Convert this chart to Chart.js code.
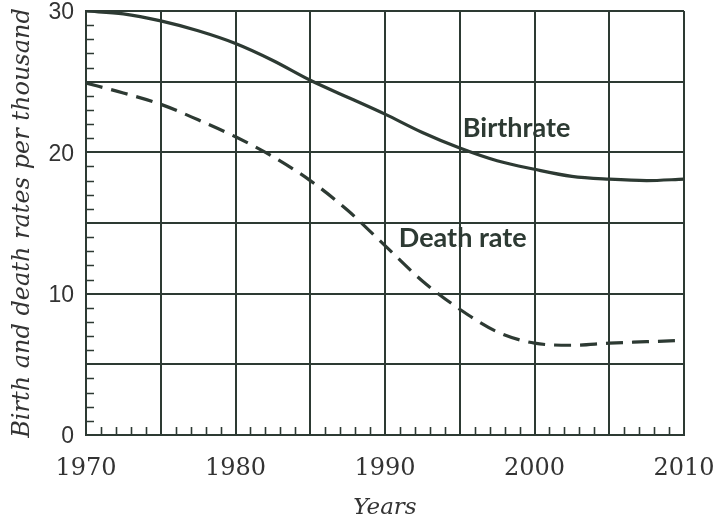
<!DOCTYPE html>
<html><head><meta charset="utf-8">
<script src="https://cdn.jsdelivr.net/npm/chart.js@4/dist/chart.umd.min.js"></script>
<style>html,body{margin:0;padding:0;background:#fff}#wrap{width:726px;height:522px}</style>
</head><body><div id="wrap"><canvas id="c" width="726" height="522"></canvas></div>
<script>
const years      = [1970, 1972.5, 1975, 1977.5, 1980, 1982.5, 1985, 1987.5, 1990, 1992.5, 1995, 1997.5, 2000, 2002.5, 2005, 2007.5, 2010];
const birthrate  = [30.0, 29.8, 29.3, 28.6, 27.7, 26.5, 25.1, 23.9, 22.7, 21.4, 20.3, 19.4, 18.8, 18.3, 18.1, 18.0, 18.1];
const deathRate  = [24.9, 24.2, 23.4, 22.3, 21.1, 19.7, 18.0, 15.9, 13.4, 10.9, 8.9, 7.3, 6.5, 6.35, 6.5, 6.6, 6.7];
const xTickLabels = [1970, 1980, 1990, 2000, 2010];
const yTickLabels = [0, 10, 20, 30];
const seriesNames = ['Birthrate', 'Death rate'];
const xTitle = 'Years';
const yTitle = 'Birth and death rates per thousand';

const ink = '#2d3a33';
const textInk = '#333333';

const toPts = (vals) => years.map((yr, i) => ({x: yr, y: vals[i]}));

const extras = {
  id: 'extras',
  afterDraw(chart) {
    const {ctx, scales: {x, y}, chartArea: a} = chart;
    ctx.save();
    ctx.strokeStyle = ink;
    ctx.lineWidth = 1.6;
    ctx.beginPath();
    for (let v = x.min + 1; v < x.max; v++) {
      if (v % 5 === 0) continue;
      const px = Math.round(x.getPixelForValue(v)) + 0.5;
      ctx.moveTo(px, a.bottom);
      ctx.lineTo(px, a.bottom - 8);
    }
    for (let v = y.min + 1; v < y.max; v++) {
      if (v % 5 === 0) continue;
      const py = Math.round(y.getPixelForValue(v)) + 0.5;
      ctx.moveTo(a.left, py);
      ctx.lineTo(a.left + 8, py);
    }
    ctx.stroke();
    ctx.fillStyle = ink;
    ctx.font = 'bold 27px Lato';
    ctx.textAlign = 'center';
    ctx.textBaseline = 'middle';
    ctx.fillText(seriesNames[0], x.getPixelForValue(1998.8), y.getPixelForValue(21.7));
    ctx.fillText(seriesNames[1], x.getPixelForValue(1995.2), y.getPixelForValue(13.9));
    ctx.restore();
  }
};

const gridColor = (ctx) => (ctx.tick && ctx.tick.value % 5 === 0) ? ink : 'rgba(0,0,0,0)';

new Chart(document.getElementById('c'), {
  type: 'line',
  data: {
    datasets: [
      {label: seriesNames[0], data: toPts(birthrate), borderColor: ink, borderWidth: 3.2, pointRadius: 0, cubicInterpolationMode: 'monotone', fill: false},
      {label: seriesNames[1], data: toPts(deathRate), borderColor: ink, borderWidth: 3.2, borderDash: [17, 9], pointRadius: 0, cubicInterpolationMode: 'monotone', fill: false}
    ]
  },
  options: {
    responsive: false,
    animation: false,
    devicePixelRatio: 1,
    layout: {padding: {top: 11, right: 42, left: 0, bottom: 0}},
    plugins: {legend: {display: false}, tooltip: {enabled: false}},
    scales: {
      x: {
        type: 'linear', min: 1970, max: 2010,
        ticks: {
          stepSize: 1, autoSkip: false, maxRotation: 0, minRotation: 0,
          callback: (v) => xTickLabels.includes(v) ? String(v) : '',
          font: {family: 'DejaVu Serif', size: 24}, color: textInk, padding: 19
        },
        grid: {color: gridColor, lineWidth: 2, drawTicks: false},
        border: {display: true, color: ink, width: 2},
        title: {display: true, text: xTitle, color: textInk, font: {family: 'DejaVu Serif', style: 'italic', size: 23}, padding: {top: 0, bottom: 0}},
        afterFit: (s) => { s.height = 87; s.paddingLeft = 0; s.paddingRight = 0; }
      },
      y: {
        min: 0, max: 30,
        ticks: {
          stepSize: 1, autoSkip: false, labelOffset: 2,
          callback: (v) => yTickLabels.includes(v) ? String(v) : '',
          font: {family: 'Liberation Sans', size: 23}, color: textInk, padding: 12
        },
        grid: {color: gridColor, lineWidth: 2, drawTicks: false},
        border: {display: true, color: ink, width: 2},
        title: {display: true, text: yTitle, color: textInk, font: {family: 'DejaVu Serif', style: 'italic', size: 24}, padding: {top: 8, bottom: 0}},
        afterFit: (s) => { s.width = 86; s.paddingTop = 0; s.paddingBottom = 0; }
      }
    }
  },
  plugins: [extras]
});
</script>
</body></html>
